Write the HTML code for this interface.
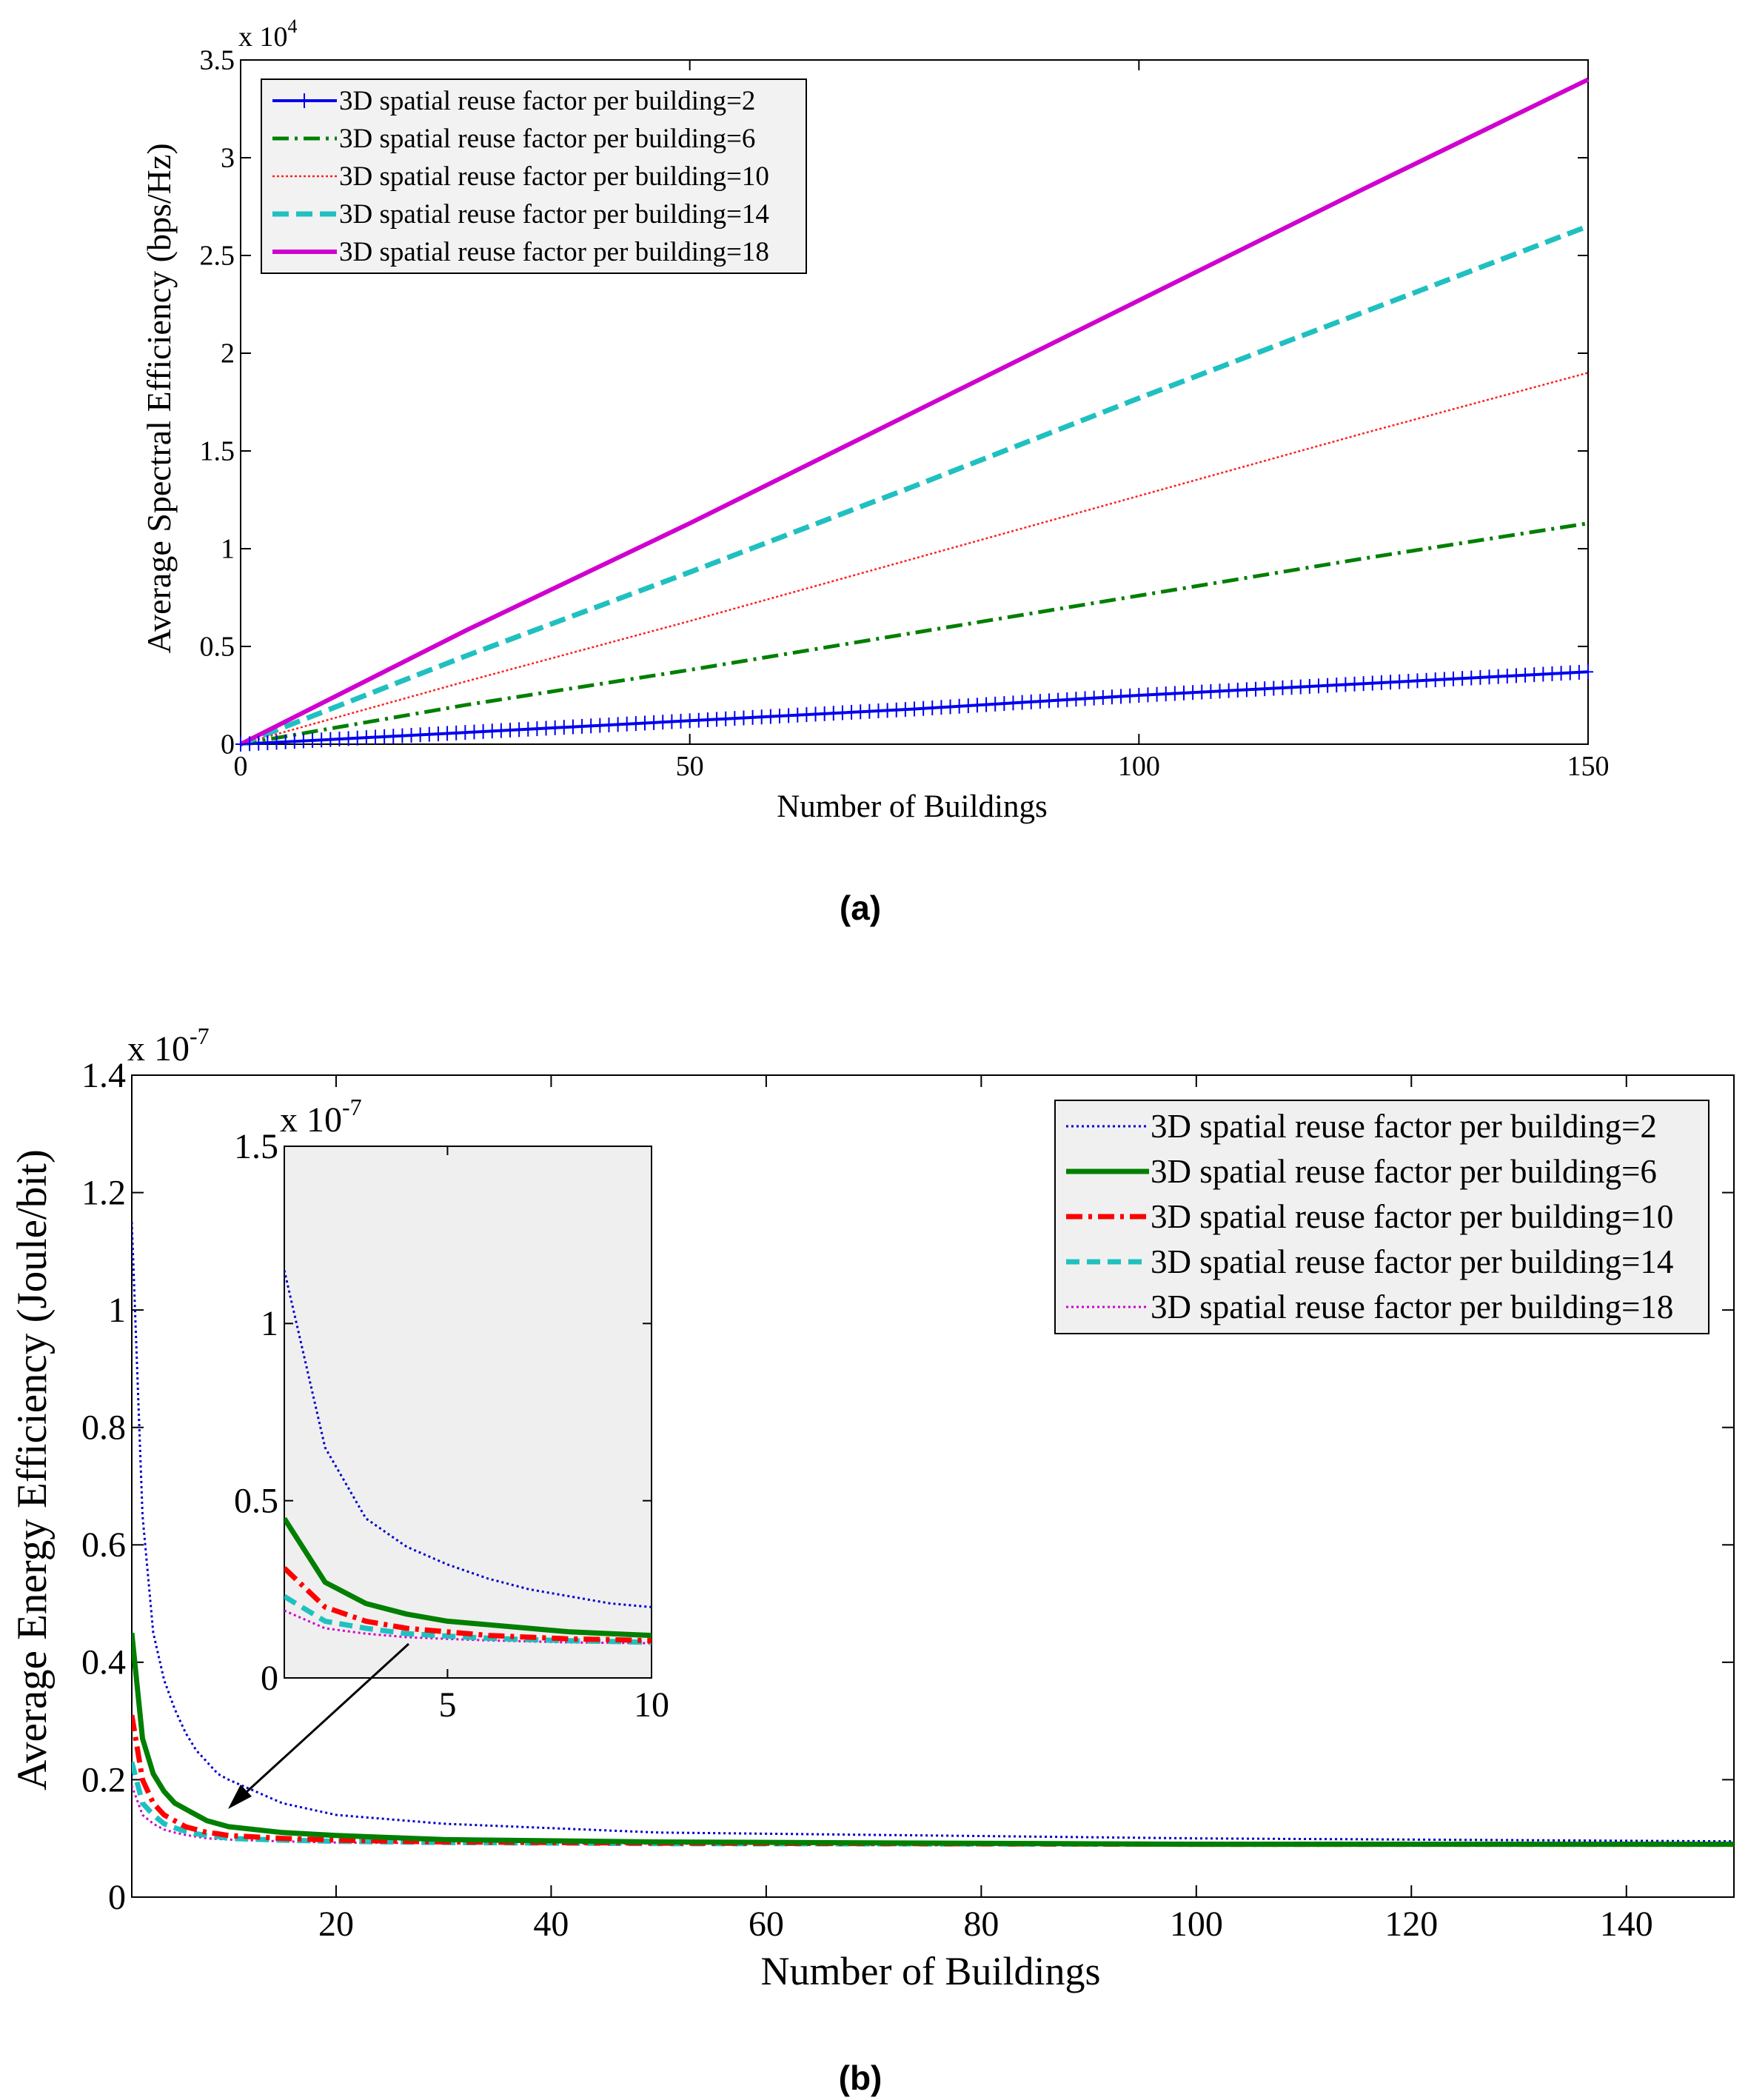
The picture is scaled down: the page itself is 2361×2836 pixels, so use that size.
<!DOCTYPE html>
<html><head><meta charset="utf-8"><style>
html,body{margin:0;padding:0;background:#fff}
svg{display:block}
text{font-family:"Liberation Serif",serif;fill:#000}
</style></head><body>
<svg id="fig" width="2361" height="2836" viewBox="0 0 2361 2836" xmlns="http://www.w3.org/2000/svg"></svg>
<script>
// ---- chart (a) data ----
const aX = [0, 25, 50, 75, 100, 125, 150];
const aSeries2 = [0, 0.06, 0.12, 0.18, 0.25, 0.31, 0.37];
const aSeries6 = [0, 0.2, 0.38, 0.57, 0.76, 0.95, 1.13];
const aSeries10 = [0, 0.32, 0.63, 0.95, 1.27, 1.59, 1.9];
const aSeries14 = [0, 0.45, 0.88, 1.32, 1.77, 2.21, 2.65];
const aSeries18 = [0, 0.58, 1.13, 1.7, 2.27, 2.84, 3.4];
const aXTicks = [0, 50, 100, 150];
const aYTicks = [0, 0.5, 1, 1.5, 2, 2.5, 3, 3.5];
const aLegend = ["3D spatial reuse factor per building=2","3D spatial reuse factor per building=6","3D spatial reuse factor per building=10","3D spatial reuse factor per building=14","3D spatial reuse factor per building=18"];
// ---- chart (b) data ----
const bX = [1, 2, 3, 4, 5, 6, 7, 8, 9, 10, 15, 20, 30, 50, 100, 150];
const bSeries2 = [1.15, 0.65, 0.45, 0.37, 0.32, 0.28, 0.25, 0.23, 0.21, 0.2, 0.16, 0.14, 0.125, 0.11, 0.1, 0.095];
const bSeries6 = [0.45, 0.27, 0.21, 0.18, 0.16, 0.15, 0.14, 0.13, 0.125, 0.12, 0.11, 0.105, 0.098, 0.094, 0.09, 0.09];
const bSeries10 = [0.31, 0.2, 0.16, 0.14, 0.13, 0.12, 0.115, 0.11, 0.108, 0.105, 0.1, 0.097, 0.094, 0.092, 0.09, 0.09];
const bSeries14 = [0.23, 0.16, 0.14, 0.125, 0.118, 0.112, 0.108, 0.105, 0.103, 0.1, 0.097, 0.095, 0.093, 0.091, 0.09, 0.09];
const bSeries18 = [0.19, 0.14, 0.125, 0.115, 0.11, 0.106, 0.103, 0.1, 0.099, 0.098, 0.095, 0.093, 0.092, 0.091, 0.09, 0.09];
const bXTicks = [20, 40, 60, 80, 100, 120, 140];
const bYTicks = [0, 0.2, 0.4, 0.6, 0.8, 1, 1.2, 1.4];
const insetXTicks = [5, 10];
const insetYTicks = [0, 0.5, 1, 1.5];

const NS = "http://www.w3.org/2000/svg";
const svg = document.getElementById("fig");
function mk(tag, attrs, parent) {
  const e = document.createElementNS(NS, tag);
  for (const k in attrs) e.setAttribute(k, attrs[k]);
  (parent || svg).appendChild(e);
  return e;
}
function scale(d0, d1, r0, r1) { return v => r0 + (v - d0) / (d1 - d0) * (r1 - r0); }

function axesBox(L, T, R, B, fill, name) {
  const r = mk("rect", {x: L, y: T, width: R - L, height: B - T, fill: fill, stroke: "#000", "stroke-width": 2});
  
  
}
function xTicks(ticks, sx, T, B, fs, len, name, labelDy) {
  const g = mk("g", {});
  
  
  ticks.forEach(t => {
    const x = sx(t);
    mk("line", {x1: x, x2: x, y1: B, y2: B - len, stroke: "#000", "stroke-width": 2}, g);
    mk("line", {x1: x, x2: x, y1: T, y2: T + len, stroke: "#000", "stroke-width": 2}, g);
    const tx = mk("text", {x: x, y: B + labelDy, "font-size": fs, "text-anchor": "middle"}, g);
    tx.textContent = t;
  });
}
function yTicks(ticks, sy, L, R, fs, len, name, tickRight) {
  const g = mk("g", {});
  
  
  ticks.forEach(t => {
    const y = sy(t);
    mk("line", {x1: L, x2: L + len, y1: y, y2: y, stroke: "#000", "stroke-width": 2}, g);
    if (tickRight) mk("line", {x1: R, x2: R - len, y1: y, y2: y, stroke: "#000", "stroke-width": 2}, g);
    const tx = mk("text", {x: L - 8, y: y + fs * 0.33, "font-size": fs, "text-anchor": "end"}, g);
    tx.textContent = t;
  });
}
function series(xs, ys, sx, sy, style, name, clip) {
  const pts = xs.map((x, i) => sx(x).toFixed(1) + "," + sy(ys[i]).toFixed(1)).join(" ");
  const a = {points: pts, fill: "none", stroke: style.c, "stroke-width": style.w, "stroke-linejoin": "round"};
  if (style.d) a["stroke-dasharray"] = style.d;
  if (clip) a["clip-path"] = clip;
  const p = mk("polyline", a);
  
  
  return p;
}

// ================= Chart (a) =================
const aL = 325, aR = 2145, aT = 81, aB = 1005;
const ax = scale(0, 150, aL, aR), ay = scale(0, 3.5, aB, aT);
axesBox(aL, aT, aR, aB, "#fff", "plot-a-area");
xTicks(aXTicks, ax, aT, aB, 38, 14, "plot-a-x-ticks", 42);
yTicks(aYTicks, ay, aL, aR, 38, 14, "plot-a-y-ticks", true);
const aStyles = [
  {c: "#0000ee", w: 4},
  {c: "#007f00", w: 5, d: "22 8 4 8"},
  {c: "#ff2020", w: 2.5, d: "3 3"},
  {c: "#20c0c0", w: 7, d: "22 10"},
  {c: "#d000d0", w: 6}
];
const aData = [aSeries2, aSeries6, aSeries10, aSeries14, aSeries18];
aData.forEach((s, i) => series(aX, s, ax, ay, aStyles[i], "plot-a-line-" + [2,6,10,14,18][i]));
const aMk = mk("g", {stroke: "#0000ee", "stroke-width": 2});


for (let x = 0; x <= 150; x += 1) {
  const k = Math.min(Math.floor(x / 25), aX.length - 2);
  const f = (x - aX[k]) / (aX[k + 1] - aX[k]);
  const v = aSeries2[k] + f * (aSeries2[k + 1] - aSeries2[k]);
  const px = ax(x), py = ay(v);
  mk("line", {x1: px - 7, x2: px + 7, y1: py, y2: py}, aMk);
  mk("line", {x1: px, x2: px, y1: py - 10, y2: py + 10}, aMk);
}
let t;
t = mk("text", {x: 322, y: 62, "font-size": 38});


t.innerHTML = 'x 10<tspan dy="-18" font-size="26">4</tspan>';
t = mk("text", {x: 1232, y: 1103, "font-size": 43, "text-anchor": "middle"});


t.textContent = "Number of Buildings";
t = mk("text", {x: 0, y: 0, "font-size": 46, "text-anchor": "middle", transform: "translate(230,538) rotate(-90)"});


t.textContent = "Average Spectral Efficiency (bps/Hz)";
const aLg = mk("g", {});


mk("rect", {x: 353, y: 107, width: 736, height: 262, fill: "#f2f2f2", stroke: "#000", "stroke-width": 2}, aLg);
aLegend.forEach((lab, i) => {
  const y = 136 + i * 51;
  const st = aStyles[i];
  const la = {x1: 368, x2: 455, y1: y, y2: y, stroke: st.c, "stroke-width": st.w};
  if (st.d) la["stroke-dasharray"] = st.d;
  mk("line", la, aLg);
  if (i === 0) mk("line", {x1: 411, x2: 411, y1: y - 10, y2: y + 10, stroke: st.c, "stroke-width": 2}, aLg);
  const tt = mk("text", {x: 458, y: y + 12, "font-size": 37}, aLg);
  tt.textContent = lab;
});
t = mk("text", {x: 1162, y: 1242, "font-size": 46, "font-weight": "bold", "text-anchor": "middle", style: "font-family:'Liberation Sans',sans-serif"});


t.textContent = "(a)";

// ================= Chart (b) =================
const bL = 178, bR = 2342, bT = 1452, bB = 2562;
const bx = scale(1, 150, bL, bR), by = scale(0, 1.4, bB, bT);
axesBox(bL, bT, bR, bB, "#fff", "plot-b-area");
xTicks(bXTicks, bx, bT, bB, 48, 16, "plot-b-x-ticks", 52);
yTicks(bYTicks, by, bL, bR, 48, 16, "plot-b-y-ticks", true);
const bStyles = [
  {c: "#0000cc", w: 3, d: "3 4"},
  {c: "#007f00", w: 7},
  {c: "#ff0000", w: 7, d: "22 8 5 8"},
  {c: "#20c0c0", w: 7, d: "18 10"},
  {c: "#d000d0", w: 3, d: "3 4"}
];
const bData = [bSeries2, bSeries6, bSeries10, bSeries14, bSeries18];
const cpB = mk("clipPath", {id: "clipB"});
mk("rect", {x: bL, y: bT, width: bR - bL, height: bB - bT}, cpB);
[0,4,3,2,1].forEach(i => series(bX, bData[i], bx, by, bStyles[i], "plot-b-line-" + [2,6,10,14,18][i], "url(#clipB)"));
t = mk("text", {x: 172, y: 1432, "font-size": 48});


t.innerHTML = 'x 10<tspan dy="-22" font-size="32">-7</tspan>';
t = mk("text", {x: 1257, y: 2680, "font-size": 54, "text-anchor": "middle"});


t.textContent = "Number of Buildings";
t = mk("text", {x: 0, y: 0, "font-size": 57, "text-anchor": "middle", transform: "translate(62,1985) rotate(-90)"});


t.textContent = "Average Energy Efficiency (Joule/bit)";
const bLg = mk("g", {});


mk("rect", {x: 1425, y: 1486, width: 883, height: 315, fill: "#f0f0f0", stroke: "#000", "stroke-width": 2}, bLg);
aLegend.forEach((lab, i) => {
  const y = 1521 + i * 61;
  const st = bStyles[i];
  const la = {x1: 1440, x2: 1552, y1: y, y2: y, stroke: st.c, "stroke-width": st.w};
  if (st.d) la["stroke-dasharray"] = st.d;
  mk("line", la, bLg);
  const tt = mk("text", {x: 1554, y: y + 15, "font-size": 45}, bLg);
  tt.textContent = lab;
});
const iL = 384, iR = 880, iT = 1548, iB = 2266;
const ix = scale(1, 10, iL, iR), iy = scale(0, 1.5, iB, iT);
axesBox(iL, iT, iR, iB, "#efefef", "inset-area");
xTicks(insetXTicks, ix, iT, iB, 48, 12, "inset-x-ticks", 52);
yTicks(insetYTicks, iy, iL, iR, 48, 12, "inset-y-ticks", true);
const cpI = mk("clipPath", {id: "clipI"});
mk("rect", {x: iL, y: iT, width: iR - iL, height: iB - iT}, cpI);
[0,4,3,2,1].forEach(i => series(bX, bData[i], ix, iy, bStyles[i], "inset-line-" + [2,6,10,14,18][i], "url(#clipI)"));
t = mk("text", {x: 378, y: 1528, "font-size": 48});


t.innerHTML = 'x 10<tspan dy="-22" font-size="32">-7</tspan>';
const ar = mk("g", {});


mk("line", {x1: 552, y1: 2220, x2: 322, y2: 2430, stroke: "#000", "stroke-width": 3}, ar);
mk("polygon", {points: "308,2443 325,2410 340,2426", fill: "#000"}, ar);
t = mk("text", {x: 1162, y: 2822, "font-size": 46, "font-weight": "bold", "text-anchor": "middle", style: "font-family:'Liberation Sans',sans-serif"});


t.textContent = "(b)";
</script>
</body></html>
